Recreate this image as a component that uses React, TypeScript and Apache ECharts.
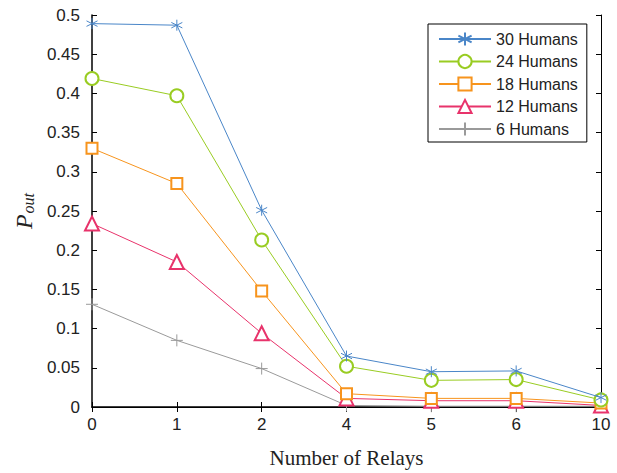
import React, { useEffect, useRef } from "react";
import * as echarts from "echarts";

const categories = ["0", "1", "2", "4", "5", "6", "10"];
const seriesNames = ["30 Humans", "24 Humans", "18 Humans", "12 Humans", "6 Humans"];
const humans30 = [0.489, 0.487, 0.251, 0.065, 0.045, 0.046, 0.012];
const humans24 = [0.419, 0.397, 0.213, 0.052, 0.034, 0.035, 0.009];
const humans18 = [0.33, 0.285, 0.148, 0.017, 0.011, 0.011, 0.005];
const humans12 = [0.234, 0.185, 0.094, 0.011, 0.008, 0.008, 0.002];
const humans6 = [0.131, 0.085, 0.049, 0.002, 0.001, 0.001, 0.001];
const colors = ["#4a86c8", "#99cc22", "#f7941d", "#e8336b", "#9a9a9a"];

const STAR = "path://M0,-5L0,5M-4.33,-2.5L4.33,2.5M-4.33,2.5L4.33,-2.5";
const PLUS = "path://M-5,0L5,0M0,-5L0,5";

export default function App() {
  const ref = useRef<HTMLDivElement>(null);
  useEffect(() => {
    const chart = echarts.init(ref.current!, null, { renderer: "svg" });
    const data = [humans30, humans24, humans18, humans12, humans6];
    const symbols = [STAR, "emptyCircle", "emptyRect", "emptyTriangle", PLUS];
    const sizes = [11, 13, 11, 14, 12];
    const font = "Liberation Sans";
    const series = data.map((d, i) => {
      const isPath = i === 0 || i === 4;
      return {
        name: seriesNames[i],
        type: "line",
        data: d,
        symbol: symbols[i],
        symbolSize: sizes[i],
        showAllSymbol: true,
        lineStyle: { color: colors[i], width: 1 },
        itemStyle: isPath
          ? { color: "rgba(0,0,0,0)", borderColor: colors[i], borderWidth: 1 }
          : { color: colors[i], borderWidth: 1 },
        z: 10 - i,
      };
    });
    chart.setOption({
      animation: false,
      backgroundColor: "#fff",
      grid: { left: 92, right: 16, top: 15, bottom: 63 },
      legend: {
        orient: "vertical",
        left: 428,
        top: 24,
        padding: [7, 9, 5, 10],
        itemGap: 6.5,
        itemWidth: 52,
        itemHeight: 16.5,
        borderColor: "#000",
        borderWidth: 1,
        backgroundColor: "#fff",
        textStyle: { fontFamily: font, fontSize: 16, color: "#222" },
        data: seriesNames,
      },
      xAxis: [
        {
          type: "category",
          data: categories,
          boundaryGap: false,
          axisLine: { lineStyle: { color: "#000", width: 1.5 } },
          axisTick: { inside: true, length: 5, lineStyle: { color: "#000" } },
          axisLabel: { fontFamily: font, fontSize: 17, color: "#222", margin: 9 },
          splitLine: { show: false },
          name: "Number of Relays",
          nameLocation: "middle",
          nameGap: 40,
          nameTextStyle: { fontFamily: "Liberation Serif", fontSize: 21, color: "#222" },
        },
        {
          type: "category",
          data: categories,
          boundaryGap: false,
          position: "top",
          axisLine: { lineStyle: { color: "#000", width: 1 } },
          axisTick: { inside: true, length: 5, lineStyle: { color: "#000" } },
          axisLabel: { show: false },
          splitLine: { show: false },
        },
      ],
      yAxis: [
        {
          type: "value",
          min: 0,
          max: 0.5,
          interval: 0.05,
          axisLine: { show: true, lineStyle: { color: "#000", width: 1.5 } },
          axisTick: { show: true, inside: true, length: 5, lineStyle: { color: "#000" } },
          axisLabel: {
            fontFamily: font,
            fontSize: 17,
            color: "#222",
            margin: 12,
            formatter: (v: number) => String(Math.round(v * 100) / 100),
          },
          splitLine: { show: false },
          name: "{p|P}{s|out}",
          nameLocation: "middle",
          nameGap: 55,
          nameRotate: 90,
          nameTextStyle: {
            rich: {
              p: { fontFamily: "Liberation Serif", fontStyle: "italic", fontSize: 24, color: "#222", verticalAlign: "bottom", lineHeight: 28 },
              s: { fontFamily: "Liberation Serif", fontStyle: "italic", fontSize: 16, color: "#222", verticalAlign: "bottom", lineHeight: 18, padding: [10, 0, 0, 1] },
            },
          },
        },
        {
          type: "value",
          min: 0,
          max: 0.5,
          interval: 0.05,
          position: "right",
          axisLine: { show: true, lineStyle: { color: "#000", width: 1 } },
          axisTick: { show: true, inside: true, length: 5, lineStyle: { color: "#000" } },
          axisLabel: { show: false },
          splitLine: { show: false },
        },
      ],
      series,
    });
    return () => chart.dispose();
  }, []);
  return <div ref={ref} style={{ width: 617, height: 473, position: "absolute", left: 0, top: 0 }} />;
}
